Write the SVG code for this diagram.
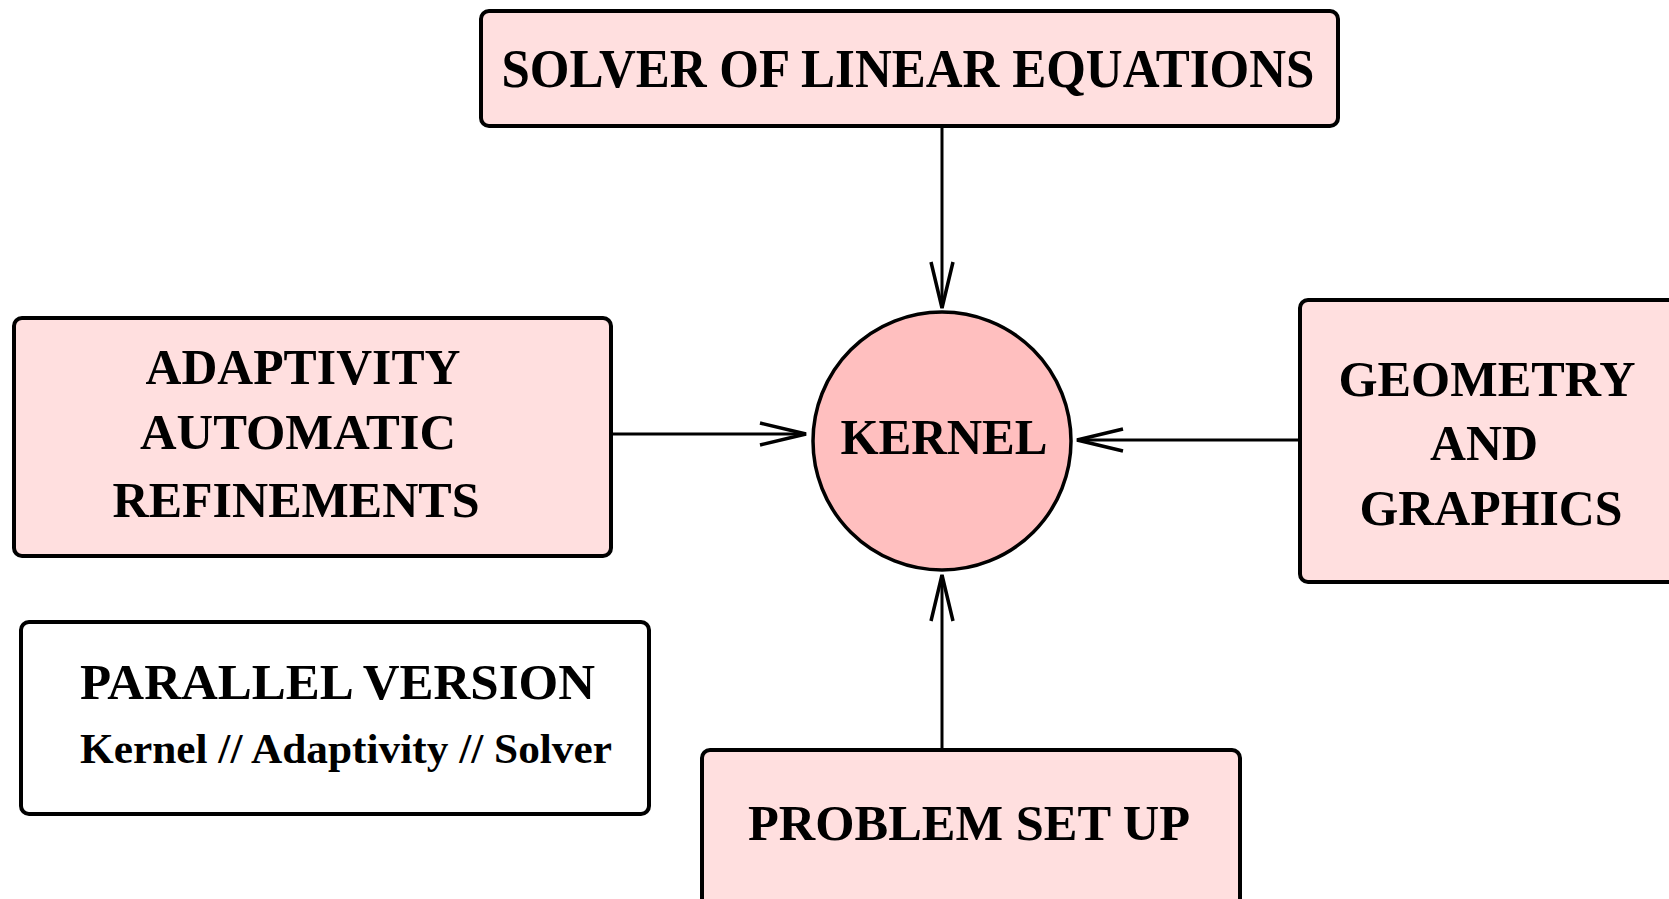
<svg xmlns="http://www.w3.org/2000/svg" width="1669" height="899" viewBox="0 0 1669 899">
  <style>
    .box { fill: #ffdfdf; stroke: #000; stroke-width: 4; }
    .plain { fill: #fff; stroke: #000; stroke-width: 4; }
    .core { fill: #ffbfbf; stroke: #000; stroke-width: 3.5; }
    .lbl { font-family: "Liberation Serif", "Times New Roman", serif; font-weight: bold; fill: #000; text-anchor: middle; }
    .left { text-anchor: start; }
    .edge { stroke: #000; stroke-width: 3; fill: none; }
  </style>
  <defs>
    <marker id="open" viewBox="-50 -14 52 28" refX="0" refY="0" markerWidth="52" markerHeight="28" markerUnits="userSpaceOnUse" orient="auto">
      <path d="M-46,-11 L0,0 L-46,11" fill="none" stroke="#000" stroke-width="3.5"/>
    </marker>
  </defs>
  <rect width="1669" height="899" fill="#fff"/>

  <g id="connectors">
    <line class="edge" x1="942" y1="126" x2="942" y2="308" marker-end="url(#open)"/>
    <line class="edge" x1="611" y1="434" x2="806" y2="434" marker-end="url(#open)"/>
    <line class="edge" x1="1300" y1="440" x2="1077" y2="440" marker-end="url(#open)"/>
    <line class="edge" x1="942" y1="750" x2="942" y2="575" marker-end="url(#open)"/>
  </g>

  <g id="solver">
    <rect class="box" x="481" y="11" width="857" height="115" rx="8"/>
    <text class="lbl" x="908" y="87" font-size="54" textLength="813" lengthAdjust="spacingAndGlyphs">SOLVER OF LINEAR EQUATIONS</text>
  </g>

  <g id="kernel">
    <circle class="core" cx="942" cy="441" r="129"/>
    <text class="lbl" x="944" y="454" font-size="50" textLength="207" lengthAdjust="spacingAndGlyphs">KERNEL</text>
  </g>

  <g id="adaptivity">
    <rect class="box" x="14" y="318" width="597" height="238" rx="8"/>
    <text class="lbl" x="303" y="384" font-size="51" textLength="315" lengthAdjust="spacingAndGlyphs">ADAPTIVITY</text>
    <text class="lbl" x="298" y="449" font-size="51" textLength="316" lengthAdjust="spacingAndGlyphs">AUTOMATIC</text>
    <text class="lbl" x="296" y="517" font-size="51" textLength="367" lengthAdjust="spacingAndGlyphs">REFINEMENTS</text>
  </g>

  <g id="geometry">
    <rect class="box" x="1300" y="300" width="390" height="282" rx="8"/>
    <text class="lbl" x="1487" y="396" font-size="51" textLength="297" lengthAdjust="spacingAndGlyphs">GEOMETRY</text>
    <text class="lbl" x="1484" y="460" font-size="51" textLength="108" lengthAdjust="spacingAndGlyphs">AND</text>
    <text class="lbl" x="1491" y="525" font-size="51" textLength="263" lengthAdjust="spacingAndGlyphs">GRAPHICS</text>
  </g>

  <g id="problem">
    <rect class="box" x="702" y="750" width="538" height="170" rx="8"/>
    <text class="lbl" x="969" y="840" font-size="50" textLength="442" lengthAdjust="spacingAndGlyphs">PROBLEM SET UP</text>
  </g>

  <g id="parallel">
    <rect class="plain" x="21" y="622" width="628" height="192" rx="8"/>
    <text class="lbl left" x="80" y="699" font-size="50" textLength="515" lengthAdjust="spacingAndGlyphs">PARALLEL VERSION</text>
    <text class="lbl left" x="80" y="763" font-size="43" textLength="532" lengthAdjust="spacingAndGlyphs">Kernel // Adaptivity // Solver</text>
  </g>
</svg>
